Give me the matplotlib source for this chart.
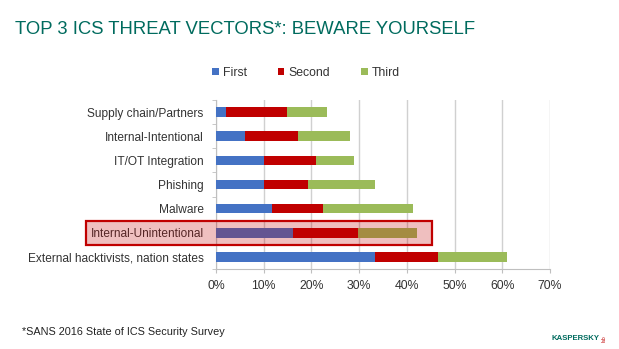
import matplotlib
matplotlib.use("Agg")
import matplotlib.pyplot as plt
from matplotlib.patches import Rectangle
from matplotlib.ticker import FixedLocator, PercentFormatter

plt.rcParams['font.family'] = ['Liberation Sans', 'DejaVu Sans']

# Threat vectors, listed bottom to top
categories = [
    "External hacktivists, nation states",
    "Internal-Unintentional",
    "Malware",
    "Phishing",
    "IT/OT Integration",
    "Internal-Intentional",
    "Supply chain/Partners",
]
first = [33.4, 16.2, 11.8, 10.0, 10.0, 6.1, 2.2]
second = [13.1, 13.6, 10.6, 9.3, 11.0, 11.0, 12.7]
third = [14.5, 12.4, 18.9, 14.1, 8.0, 11.0, 8.4]
series_names = ["First", "Second", "Third"]
highlight = "Internal-Unintentional"
x_ticks = [0, 10, 20, 30, 40, 50, 60, 70]

colors = ["#4472C4", "#C00000", "#9BBB59"]
teal = "#006B5E"

W, H = 619, 349
fig = plt.figure(figsize=(W / 100, H / 100), dpi=100)
ax = fig.add_axes([216 / W, 1 - 269 / H, (550 - 216) / W, (269 - 100) / H])

y = list(range(len(categories)))
left = [0.0] * len(categories)
for vals, col, name in zip([first, second, third], colors, series_names):
    ax.barh(y, vals, left=left, height=0.4, color=col, label=name, zorder=3)
    left = [l + v for l, v in zip(left, vals)]

ax.set_xlim(0, 70)
ax.set_ylim(-0.5, len(categories) - 0.5)
ax.set_yticks(y)
ax.set_yticklabels(categories, fontsize=8.6, color="#333333")
ax.yaxis.set_minor_locator(FixedLocator([i - 0.5 for i in range(len(categories) + 1)]))
ax.tick_params(axis="y", which="major", length=0, pad=9)
ax.tick_params(axis="y", which="minor", length=3, color="#BFBFBF", direction="out")
ax.set_xticks(x_ticks)
ax.xaxis.set_major_formatter(PercentFormatter(decimals=0))
ax.tick_params(axis="x", length=3, color="#BFBFBF", labelsize=8.8, labelcolor="#333333", pad=5)
ax.grid(axis="x", color="#D0D0D0", linewidth=1, zorder=0)
for s in ["top", "right"]:
    ax.spines[s].set_visible(False)
for s in ["left", "bottom"]:
    ax.spines[s].set_color("#BFBFBF")

# Highlight box around one category, reaching into the label area
hi = categories.index(highlight)
box = Rectangle((-27.3, hi - 0.5), 27.3 + 45.3, 1.0, transform=ax.transData,
                facecolor="#C00000", alpha=0.25, edgecolor="none",
                clip_on=False, zorder=4)
ax.add_patch(box)
border = Rectangle((-27.3, hi - 0.5), 27.3 + 45.3, 1.0, transform=ax.transData,
                   facecolor="none", edgecolor="#C00000", linewidth=1.6,
                   clip_on=False, zorder=5)
ax.add_patch(border)

fig.legend(loc="center", bbox_to_anchor=(306 / W, 1 - 73 / H), ncol=3,
           frameon=False, fontsize=8.8, handlelength=0.55, handleheight=0.55,
           handletextpad=0.35, columnspacing=2.5, labelcolor="#333333")

fig.text(15 / W, 1 - 30 / H, "TOP 3 ICS THREAT VECTORS*: BEWARE YOURSELF",
         fontsize=13.3, color=teal, va="center", ha="left")
fig.text(22 / W, 1 - 332 / H, "*SANS 2016 State of ICS Security Survey",
         fontsize=7.8, color="#222222", va="center", ha="left")
fig.text(600 / W, 1 - 339 / H, "KASPERSKY", fontsize=5.6, fontweight="bold",
         color=teal, va="center", ha="right")
fig.text(604 / W, 1 - 339 / H, "lab", fontsize=3.5, color="#C00000",
         rotation=90, va="center", ha="center")

fig.savefig("out.png", dpi=100)
